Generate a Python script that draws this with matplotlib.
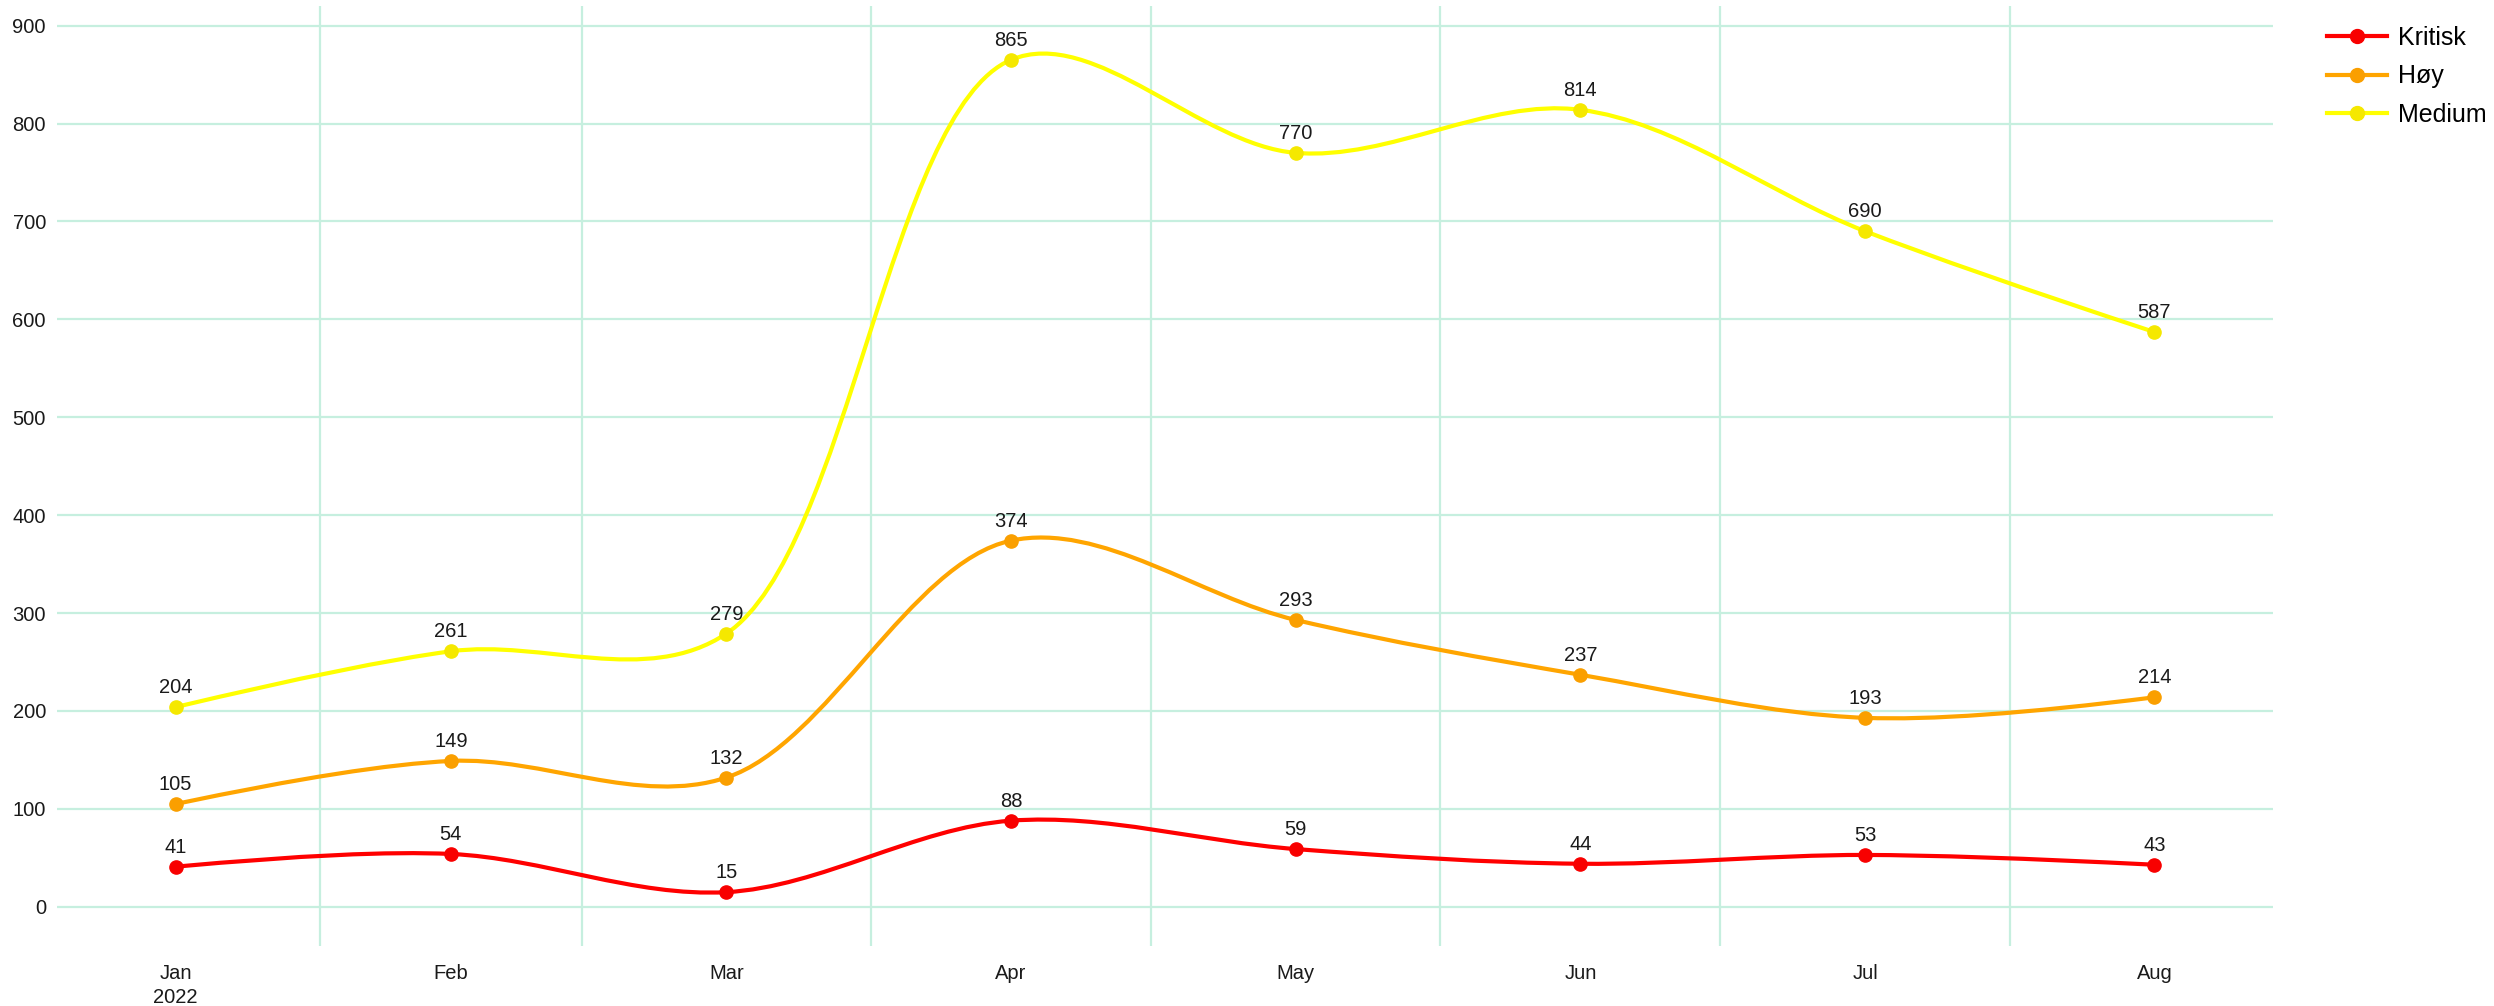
import numpy as np
import pandas as pd
import matplotlib
matplotlib.use("Agg")
import matplotlib.pyplot as plt
import matplotlib.dates as mdates
from matplotlib.path import Path
from matplotlib.patches import PathPatch

plt.rcParams["font.family"] = ["Liberation Sans", "DejaVu Sans"]

# data
months = ["2022-01", "2022-02", "2022-03", "2022-04", "2022-05", "2022-06", "2022-07", "2022-08"]
kritisk = [41, 54, 15, 88, 59, 44, 53, 43]
hoy = [105, 149, 132, 374, 293, 237, 193, 214]
medium = [204, 261, 279, 865, 770, 814, 690, 587]
month_labels = ["Jan\n2022", "Feb", "Mar", "Apr", "May", "Jun", "Jul", "Aug"]

# name, values, line colour, marker colour
series = [("Kritisk", kritisk, "#ff0000", "#f80000"),
          ("Høy", hoy, "#ffa500", "#fa9f00"),
          ("Medium", medium, "#ffff00", "#f5e800")]

# points sit in the middle of each month period
starts = pd.to_datetime(months)
ends = starts + pd.offsets.MonthBegin(1)
mids = starts + (ends - starts) / 2
x = mdates.date2num(mids.to_pydatetime())
gridlines = mdates.date2num(pd.date_range("2022-02-01", "2022-08-01", freq="MS").to_pydatetime())

W, H, DPI = 2494, 1006, 100
fig = plt.figure(figsize=(W / DPI, H / DPI), dpi=DPI)
ax = fig.add_axes([57 / W, 1 - 946 / H, (2273 - 57) / W, (946 - 6) / H])

pad = 12.7
ax.set_xlim(x[0] - pad, x[-1] + pad)
ax.set_ylim(-40, 920)

grid_col = "#c6efdf"
ax.set_yticks(np.arange(0, 901, 100))
ax.set_xticks(gridlines)
ax.set_xticklabels([])
ax.set_xticks(x, minor=True)
ax.set_xticklabels(month_labels, minor=True, linespacing=1.35)
ax.grid(True, which="major", color=grid_col, linewidth=1.6)
ax.set_axisbelow(True)
ax.tick_params(which="both", length=0, labelsize=14.5, labelcolor="#1a1a1a")
ax.tick_params(axis="y", pad=8)
ax.tick_params(axis="x", which="minor", pad=13)
for s in ax.spines.values():
    s.set_visible(False)


def make_tangent(p0, p1, p2, smooth=1.0):
    d1 = p0 - p1
    d2 = p2 - p1
    d1a = np.hypot(*d1) ** 0.5
    d2a = np.hypot(*d2) ** 0.5
    num = (d2a * d2a * d1 - d1a * d1a * d2) * smooth
    den1 = 3 * d2a * (d1a + d2a)
    den2 = 3 * d1a * (d1a + d2a)
    return p1 + num / den1, p1 - num / den2


def spline_path(xs, ys):
    pts = ax.transData.transform(np.column_stack([xs, ys]))
    tans = [make_tangent(pts[i - 1], pts[i], pts[i + 1]) for i in range(1, len(pts) - 1)]
    verts = [pts[0], tans[0][0], pts[1]]
    codes = [Path.MOVETO, Path.CURVE3, Path.CURVE3]
    for i in range(2, len(pts) - 1):
        verts += [tans[i - 2][1], tans[i - 1][0], pts[i]]
        codes += [Path.CURVE4] * 3
    verts += [tans[-1][1], pts[-1]]
    codes += [Path.CURVE3, Path.CURVE3]
    verts = ax.transData.inverted().transform(np.array(verts))
    return Path(verts, codes)


handles = []
for name, vals, col, mcol in series:
    ax.add_patch(PathPatch(spline_path(x, vals), fill=False, edgecolor=col,
                           linewidth=3, capstyle="round", zorder=3))
    ax.plot(x, vals, linestyle="none", marker="o", markersize=9.5, color=mcol, zorder=4)
    h, = ax.plot([], [], color=col, linewidth=3, marker="o", markersize=10,
                 markerfacecolor=mcol, markeredgecolor=mcol)
    handles.append((h, name))
    for xi, v in zip(x, vals):
        ax.annotate(str(v), (xi, v), xytext=(0, 10), textcoords="offset points",
                    ha="center", va="baseline", fontsize=14.5, color="#1a1a1a", zorder=5)

fig.legend([h for h, _ in handles], [n for _, n in handles],
           loc="upper left", bbox_to_anchor=(2327 / W, 1 - 26 / H),
           frameon=False, fontsize=18, handlelength=2.4, handletextpad=0.45,
           labelspacing=0.58, borderpad=0, borderaxespad=0)

fig.savefig("out.png", dpi=DPI)
